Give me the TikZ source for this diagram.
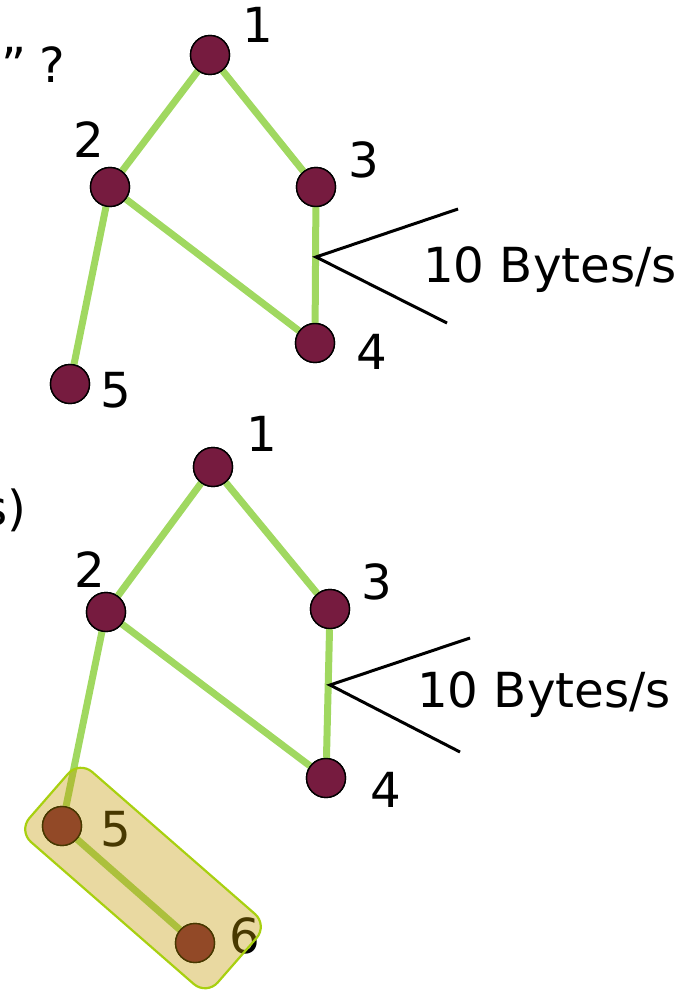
\documentclass[tikz,border=0pt]{standalone}
\usepackage{fontspec}
\setmainfont{DejaVu Sans}
\begin{document}
\begin{tikzpicture}[x=1pt,y=-1pt,
  vertex/.style={circle,draw=black,line width=1.4pt,fill=nodered,minimum size=39pt,inner sep=0pt},
  link/.style={draw=linkgreen,line width=7pt},
  tag/.style={inner sep=0pt,font=\fontsize{48.3}{58}\selectfont},
  rate/.style={draw=black,line width=3pt},
  group/.style={draw=groupline,line width=2.2pt,fill=groupfill,fill opacity=0.37,
    rounded corners=17pt,minimum width=250pt,minimum height=93pt,inner sep=0pt}]
\definecolor{nodered}{RGB}{118,27,63}
\definecolor{linkgreen}{RGB}{160,216,96}
\definecolor{groupfill}{RGB}{195,152,0}
\definecolor{groupline}{RGB}{168,208,16}
\useasboundingbox (0,0) rectangle (684,992);

% left-margin text fragments
\node[tag,anchor=base west] (qa) at (1,83) {”\hspace{13pt}?};
\node[tag,anchor=base east] (qb) at (27,525) {s)};

% upper network
\node[vertex] (a1) at (210,55) {};
\node[vertex] (a2) at (110,187) {};
\node[vertex] (a3) at (316,187) {};
\node[vertex] (a4) at (315,343) {};
\node[vertex] (a5) at (70,384) {};
\coordinate (aj) at (316,257);
\coordinate (au) at (458,209);
\coordinate (ad) at (447,323);

\path[link] (a1) -- (a2) (a1) -- (a3) (a2) -- (a4) (a3) -- (a4) (a2) -- (a5);
\draw[rate] (au) -- (aj) -- (ad);
\foreach \n in {a1,a2,a3,a4,a5} \node[vertex] at (\n) {};

\node[tag] (l1) at (258,25) {1};
\node[tag] (l2) at (89,140) {2};
\node[tag] (l3) at (364,160) {3};
\node[tag] (l4) at (372,352) {4};
\node[tag] (l5) at (116,390) {5};
\node[tag,anchor=base west] (ra) at (423,282) {10 Bytes/s};

% lower network
\node[vertex] (b1) at (213,467) {};
\node[vertex] (b2) at (106,612) {};
\node[vertex] (b3) at (330,609) {};
\node[vertex] (b4) at (326,778) {};
\node[vertex] (b5) at (62,826) {};
\node[vertex] (b6) at (195,943) {};
\coordinate (bj) at (330,685);
\coordinate (bu) at (470,638);
\coordinate (bd) at (460,752);

\path[link] (b1) -- (b2) (b1) -- (b3) (b2) -- (b4) (b3) -- (b4) (b2) -- (b5) (b5) -- (b6);
\draw[rate] (bu) -- (bj) -- (bd);
\foreach \n in {b1,b2,b3,b4,b5,b6} \node[vertex] at (\n) {};

\node[tag] (m1) at (262,434) {1};
\node[tag] (m2) at (90,570) {2};
\node[tag] (m3) at (377,582) {3};
\node[tag] (m4) at (386,790) {4};
\node[tag] (m5) at (116,829) {5};
\node[tag] (m6) at (245,936) {6};
\node[tag,anchor=base west] (rb) at (417,707) {10 Bytes/s};

% highlighted pair 5--6
\node[group,rotate=-41.1] (grp) at (143,878) {};
\end{tikzpicture}
\end{document}
